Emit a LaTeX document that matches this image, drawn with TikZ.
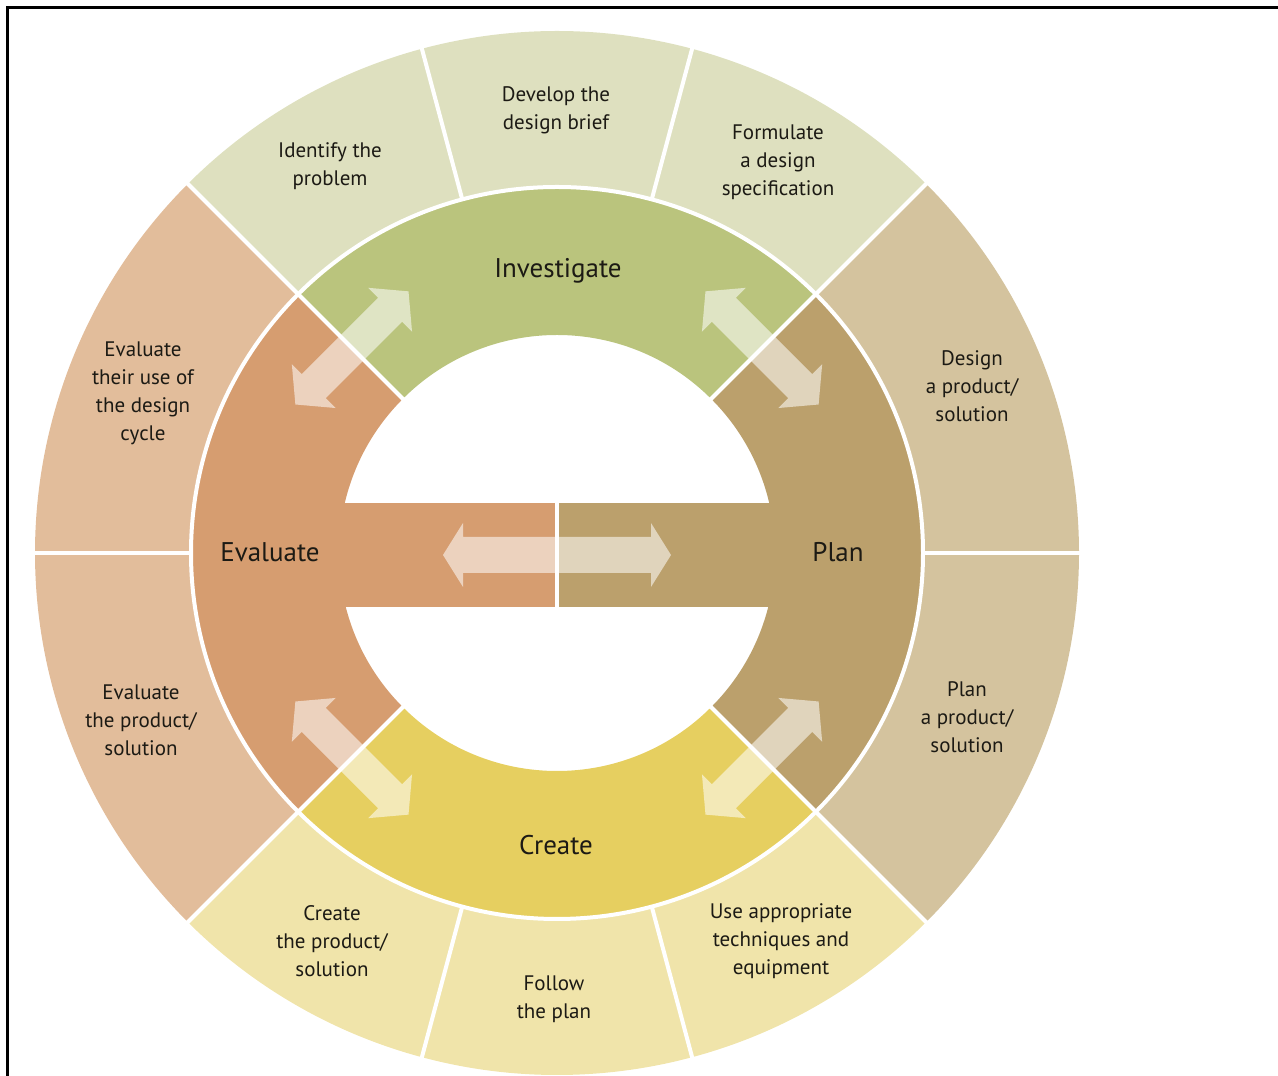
\documentclass[tikz,border=0pt]{standalone}
\usepackage{fontspec}
\setmainfont{PT Sans}
\usetikzlibrary{calc}
\definecolor{invO}{RGB}{222,224,191}
\definecolor{invI}{RGB}{186,196,125}
\definecolor{plaO}{RGB}{212,195,158}
\definecolor{plaI}{RGB}{187,160,108}
\definecolor{creO}{RGB}{240,228,170}
\definecolor{creI}{RGB}{230,207,96}
\definecolor{evaO}{RGB}{226,189,155}
\definecolor{evaI}{RGB}{214,157,112}
\definecolor{txt}{RGB}{28,26,20}
\newcommand\ringseg[5]{%
  \fill[#1] ($(C)+(#2:#4)$) arc[start angle=#2, end angle=#3, radius=#4]
    -- ($(C)+(#3:#5)$) arc[start angle=#3, end angle=#2, radius=#5] -- cycle;}
\newcommand\dblarrow[6]{%
  \begin{scope}[shift={#1},rotate=#2]
  \fill[arrowfill] (-#3,0) -- ({-#3+#4},#5) -- ({-#3+#4},#6) -- ({#3-#4},#6)
    -- ({#3-#4},#5) -- (#3,0) -- ({#3-#4},-#5) -- ({#3-#4},-#6)
    -- ({-#3+#4},-#6) -- ({-#3+#4},-#5) -- cycle;
  \end{scope}}
\tikzset{
  arrowfill/.style={fill=white, fill opacity=0.55},
  sep/.style={draw=white, line width=4pt},
  lab/.style={text=txt, align=center, font=\fontsize{21}{28}\selectfont},
  mainlab/.style={text=txt, font=\fontsize{27}{32}\selectfont},
}
\begin{document}
\begin{tikzpicture}[x=1pt,y=1pt]
\useasboundingbox (0,0) rectangle (1278,1076);
\coordinate (C) at (557,523);
% outer ring
\ringseg{invO}{45}{75}{366pt}{522pt}
\ringseg{invO}{75}{105}{366pt}{522pt}
\ringseg{invO}{105}{135}{366pt}{522pt}
\ringseg{plaO}{0}{45}{366pt}{522pt}
\ringseg{plaO}{-45}{0}{366pt}{522pt}
\ringseg{creO}{225}{255}{366pt}{522pt}
\ringseg{creO}{255}{285}{366pt}{522pt}
\ringseg{creO}{285}{315}{366pt}{522pt}
\ringseg{evaO}{135}{180}{366pt}{522pt}
\ringseg{evaO}{180}{225}{366pt}{522pt}
% main ring
\ringseg{invI}{45}{135}{218pt}{366pt}
\ringseg{plaI}{-45}{45}{218pt}{366pt}
\ringseg{creI}{225}{315}{218pt}{366pt}
\ringseg{evaI}{135}{225}{218pt}{366pt}
\fill[evaI] (335,469) rectangle (557,573);
\fill[plaI] (557,469) rectangle (779,573);
% arrows
\dblarrow{(557,521)}{0}{114}{20}{32}{18}
\dblarrow{($(C)+(135:290pt)$)}{45}{80}{26}{31}{17}
\dblarrow{($(C)+(45:290pt)$)}{-45}{80}{26}{31}{17}
\dblarrow{($(C)+(-45:290pt)$)}{45}{80}{26}{31}{17}
\dblarrow{($(C)+(225:290pt)$)}{-45}{80}{26}{31}{17}
% white separators
\draw[sep] (C) circle[radius=366pt];
\foreach \a in {45,135,225,315}
  \draw[sep] ($(C)+(\a:216pt)$) -- ($(C)+(\a:526pt)$);
\foreach \a in {0,75,105,180,255,285}
  \draw[sep] ($(C)+(\a:366pt)$) -- ($(C)+(\a:526pt)$);
\draw[sep] (557,469) -- (557,573);
% labels
\node[mainlab] (inv) at (558,805) {Investigate};
\node[mainlab] (pla) at (838,524) {Plan};
\node[mainlab] (cre) at (556,231) {Create};
\node[mainlab] (eva) at (270,524) {Evaluate};
\node[lab] (s1) at (330,910) {Identify the\\problem};
\node[lab] (s2) at (556,966) {Develop the\\design brief};
\node[lab] (s3) at (778,914) {Formulate\\a design\\specification};
\node[lab] (s4) at (972,690) {Design\\a product/\\solution};
\node[lab] (s5) at (967,359) {Plan\\a product/\\solution};
\node[lab] (s6) at (781,135) {Use appropriate\\techniques and\\equipment};
\node[lab] (s7) at (554,77) {Follow\\the plan};
\node[lab] (s8) at (332,135) {Create\\the product/\\solution};
\node[lab] (s9) at (141,356) {Evaluate\\the product/\\solution};
\node[lab] (s10) at (143,683) {Evaluate\\their use of\\the design\\cycle};
% frame
\draw[black, line width=2.5pt] (7.5,0) -- (7.5,1068.5) -- (1278,1068.5);
\end{tikzpicture}
\end{document}
